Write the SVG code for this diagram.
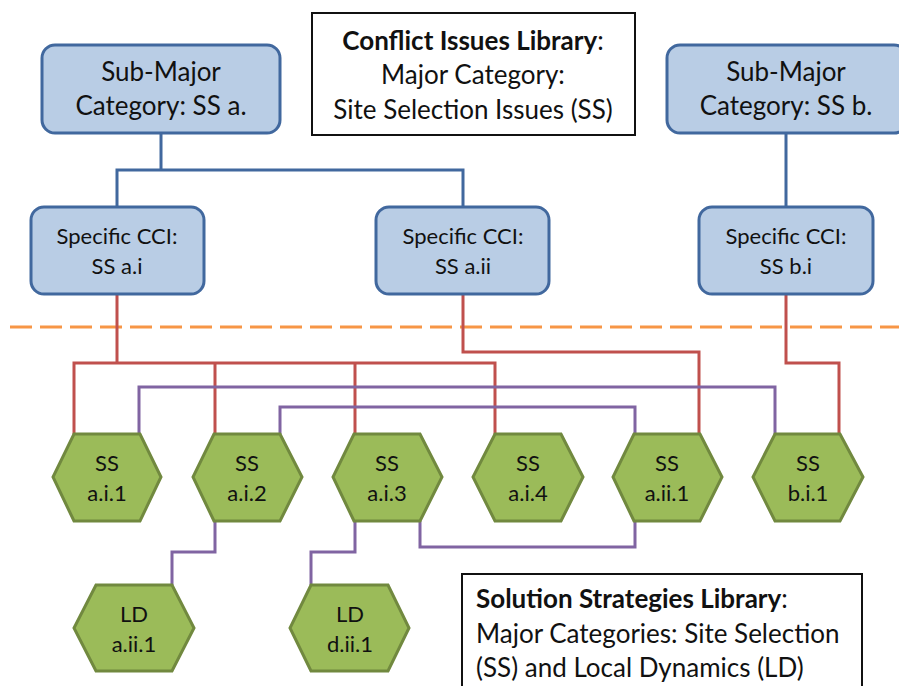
<svg xmlns="http://www.w3.org/2000/svg" width="899" height="686" viewBox="0 0 899 686">
<style>
text{font-family:Lato,"Open Sans","Liberation Sans",sans-serif;fill:#111;}
.box{fill:#B9CDE5;stroke:#41689E;stroke-width:3;}
.lib{fill:#fff;stroke:#111;stroke-width:2;}
.hex{fill:#9BBB59;stroke:#71893F;stroke-width:3;}
.b{fill:none;stroke:#41689E;stroke-width:3;}
.r{fill:none;stroke:#C0504D;stroke-width:3;}
.p{fill:none;stroke:#8064A2;stroke-width:3;}
.big{font-size:26px;text-anchor:middle;}
.mid{font-size:22px;text-anchor:middle;}
.lt{font-size:26px;}
</style>
<rect width="899" height="686" fill="#fff"/>
<g id="connectors">
<line x1="10" y1="327" x2="899" y2="327" stroke="#F79646" stroke-width="3" stroke-dasharray="22 8"/>
<path class="b" d="M161 133V170M117 207V170H463V207M786 133V207"/>
<path class="r" d="M117 294V363M74 434V363H495V434M215 363V434M355 363V434"/>
<path class="r" d="M463 294V352H699V434"/>
<path class="r" d="M786 294V363H839V434"/>
<path class="p" d="M139 434V387H775V434"/>
<path class="p" d="M280 434V407H635V434"/>
<path class="p" d="M420 521V547H635V521"/>
<path class="p" d="M215 521V552H172V585"/>
<path class="p" d="M355 521V552H311V585"/>
</g>
<g id="conflict-library">
<rect class="lib" x="312" y="13" width="323" height="122"/>
<text class="lt" x="473" y="50" text-anchor="middle"><tspan font-weight="bold">Conflict Issues Library</tspan>:</text>
<text class="lt" x="473" y="84" text-anchor="middle">Major Category:</text>
<text class="lt" x="473" y="119" text-anchor="middle">Site Selection Issues (SS)</text>
</g>
<g id="sub-major-a">
<rect class="box" x="42" y="45" width="238" height="88" rx="13"/>
<text class="big" x="161" y="81">Sub-Major</text>
<text class="big" x="161" y="115">Category: SS a.</text>
</g>
<g id="sub-major-b">
<rect class="box" x="667" y="45" width="240" height="88" rx="13"/>
<text class="big" x="786" y="81">Sub-Major</text>
<text class="big" x="786" y="115">Category: SS b.</text>
</g>
<g id="specific-a-i">
<rect class="box" x="31" y="207" width="173" height="87" rx="13"/>
<text class="mid" x="117" y="244">Specific CCI:</text>
<text class="mid" x="117" y="274">SS a.i</text>
</g>
<g id="specific-a-ii">
<rect class="box" x="376" y="207" width="173" height="87" rx="13"/>
<text class="mid" x="463" y="244">Specific CCI:</text>
<text class="mid" x="463" y="274">SS a.ii</text>
</g>
<g id="specific-b-i">
<rect class="box" x="699" y="207" width="174" height="87" rx="13"/>
<text class="mid" x="786" y="244">Specific CCI:</text>
<text class="mid" x="786" y="274">SS b.i</text>
</g>
<g id="ss-a-i-1">
<polygon class="hex" points="74,434 140,434 161,477 140,521 74,521 53,477"/>
<text class="mid" x="107" y="471">SS</text><text class="mid" x="107" y="501">a.i.1</text>
</g>
<g id="ss-a-i-2">
<polygon class="hex" points="214,434 280,434 302,477 280,521 214,521 193,477"/>
<text class="mid" x="247" y="471">SS</text><text class="mid" x="247" y="501">a.i.2</text>
</g>
<g id="ss-a-i-3">
<polygon class="hex" points="354,434 420,434 442,477 420,521 354,521 333,477"/>
<text class="mid" x="387" y="471">SS</text><text class="mid" x="387" y="501">a.i.3</text>
</g>
<g id="ss-a-i-4">
<polygon class="hex" points="495,434 561,434 583,477 561,521 495,521 473,477"/>
<text class="mid" x="528" y="471">SS</text><text class="mid" x="528" y="501">a.i.4</text>
</g>
<g id="ss-a-ii-1">
<polygon class="hex" points="634,434 700,434 722,477 700,521 634,521 613,477"/>
<text class="mid" x="667" y="471">SS</text><text class="mid" x="667" y="501">a.ii.1</text>
</g>
<g id="ss-b-i-1">
<polygon class="hex" points="775,434 840,434 863,477 840,521 775,521 753,477"/>
<text class="mid" x="808" y="471">SS</text><text class="mid" x="808" y="501">b.i.1</text>
</g>
<g id="ld-a-ii-1">
<polygon class="hex" points="96,585 172,585 194,628 172,671 96,671 74,628"/>
<text class="mid" x="134" y="622">LD</text><text class="mid" x="134" y="652">a.ii.1</text>
</g>
<g id="ld-d-ii-1">
<polygon class="hex" points="311,585 388,585 409,628 388,671 311,671 290,628"/>
<text class="mid" x="350" y="622">LD</text><text class="mid" x="350" y="652">d.ii.1</text>
</g>
<g id="solution-library">
<rect class="lib" x="462" y="574" width="400" height="120"/>
<text class="lt" x="476" y="608"><tspan font-weight="bold">Solution Strategies Library</tspan>:</text>
<text class="lt" x="476" y="643">Major Categories: Site Selection</text>
<text class="lt" x="476" y="677">(SS) and Local Dynamics (LD)</text>
</g>
</svg>
